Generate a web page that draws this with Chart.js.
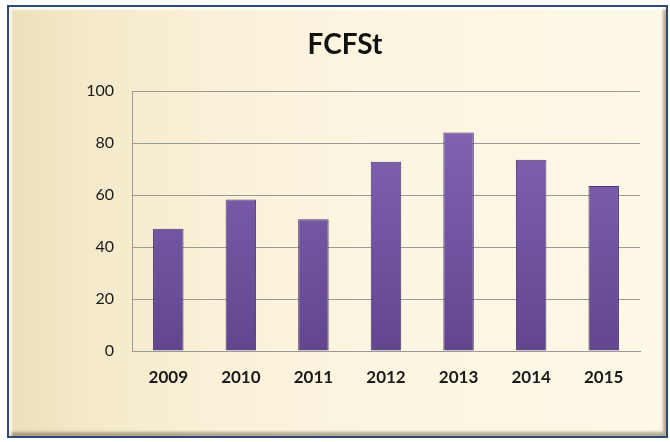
<!DOCTYPE html>
<html>
<head>
<meta charset="utf-8">
<script src="https://cdn.jsdelivr.net/npm/chart.js@4"></script>
<style>
  html, body { margin: 0; padding: 0; background: #fff; }
  #wrap { position: relative; width: 670px; height: 442px; }
  #frame {
    position: absolute; left: 7px; top: 5px; width: 657px; height: 429px;
    border: 2px solid #2c4a75;
    background: linear-gradient(to right, #ecdfb9 0%, #f4e9c9 12%, #f9f0d7 30%, #fcf5e1 55%, #fdf8e7 100%);
    box-shadow: inset 3px 3px 2px rgba(255,255,255,0.75), inset -3px -4px 3px rgba(90,80,50,0.45);
  }
  canvas { position: absolute; left: 0; top: 0; }
</style>
</head>
<body>
<div id="wrap">
  <div id="frame"></div>
  <canvas id="chart" width="670" height="442"></canvas>
</div>
<script>
// values
const years = ["2009", "2010", "2011", "2012", "2013", "2014", "2015"];
const fcfst = [47, 58.3, 50.7, 72.8, 84, 73.6, 63.5];
const yTicks = [0, 20, 40, 60, 80, 100];

const ctx = document.getElementById("chart").getContext("2d");

// vertical shading for the bars
function barFill(context) {
  const area = context.chart.chartArea;
  if (!area) return "#7657a3";
  const g = context.chart.ctx.createLinearGradient(0, area.top, 0, area.bottom);
  g.addColorStop(0, "#8667b6");
  g.addColorStop(1, "#61468e");
  return g;
}

new Chart(ctx, {
  type: "bar",
  data: {
    labels: years,
    datasets: [{
      label: "FCFSt",
      data: fcfst,
      backgroundColor: barFill,
      borderColor: "#4b3672",
      borderWidth: 1,
      categoryPercentage: 1,
      barPercentage: 0.42
    }]
  },
  options: {
    responsive: false,
    animation: false,
    // left padding keeps the title centred where the reference has it
    layout: { padding: { top: 20, right: 30, bottom: 0, left: 50 } },
    plugins: {
      legend: { display: false },
      tooltip: { enabled: false },
      title: {
        display: true,
        text: "FCFSt",
        color: "#111",
        font: { family: "Lato", size: 28, weight: "bold" },
        padding: { top: 8, bottom: 29.4 }
      }
    },
    scales: {
      x: {
        grid: { display: false, drawTicks: false },
        border: { display: true, color: "#9a9a9a", width: 1 },
        ticks: {
          color: "#1a1a1a",
          padding: 16,
          font: { family: "Lato", size: 17, weight: "bold" }
        },
        afterFit: s => { s.height = 91; }
      },
      y: {
        min: 0,
        max: 100,
        afterBuildTicks: s => { s.ticks = yTicks.map(v => ({ value: v })); },
        grid: { color: "#9a9a9a", lineWidth: 1, drawTicks: false },
        border: { display: true, color: "#9a9a9a", width: 1 },
        ticks: {
          color: "#1a1a1a",
          padding: 18,
          font: { family: "Lato", size: 16 }
        },
        afterFit: s => { s.width = 82; }
      }
    }
  }
});
</script>
</body>
</html>
